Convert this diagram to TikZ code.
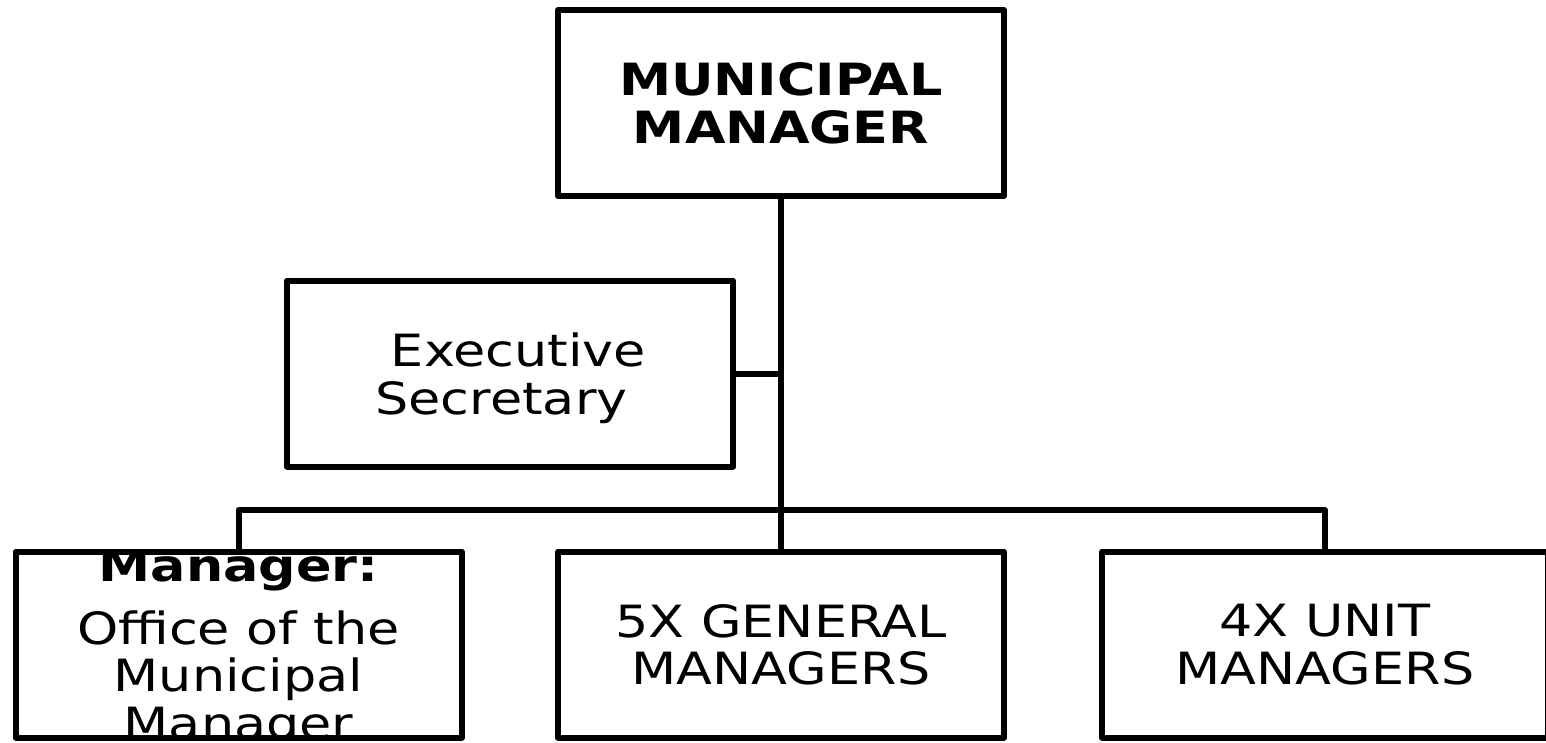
\documentclass[tikz,border=0pt]{standalone}
\usepackage{fontspec}
\setmainfont{DejaVu Sans}[FakeStretch=1.18]
\begin{document}
\begin{tikzpicture}[x=1pt, y=-1pt, line width=6pt, line join=round,
    caixa/.style={draw, minimum width=446pt, minimum height=186pt, inner sep=0pt,
        align=center, text depth=0pt, font=\fontsize{44.4}{47.7}\selectfont}]
    \def\alturaBarra{510}
    \def\espaco{\hspace*{17pt}}

    \useasboundingbox (0,0) rectangle (1546,743);

    %caixas
    \node[caixa, font=\fontsize{44.4}{47.7}\selectfont\bfseries] (mm) at (781,103) {MUNICIPAL\\MANAGER};
    \node[caixa] (es) at (510,373.5) {\espaco Executive\\Secretary\espaco};
    \node[caixa] (om) at (238.5,644.5) {};
    \node[caixa] (gm) at (781,644.5) {5X GENERAL\\MANAGERS};
    \node[caixa] (um) at (1325,644.5) {4X UNIT\\MANAGERS};

    %texto maior que a caixa, cortado pela borda
    \begin{scope}
        \clip ([shift={(-3,3)}]om.north west) rectangle ([shift={(3,-3)}]om.south east);
        \node[caixa, draw=none, minimum height=0pt, anchor=south] (om-texto) at (238.5,742.5)
            {{\bfseries Manager:}\\[15.3pt]Office of the\\Municipal\\Manager};
    \end{scope}

    %ligacoes
    \coordinate (barra) at (0,\alturaBarra);
    \draw (mm.south) -- (gm.north);
    \draw (es.east) -- (es.east -| mm.south);
    \draw (om.north) |- (barra -| um.north) -- (um.north);
\end{tikzpicture}
\end{document}
